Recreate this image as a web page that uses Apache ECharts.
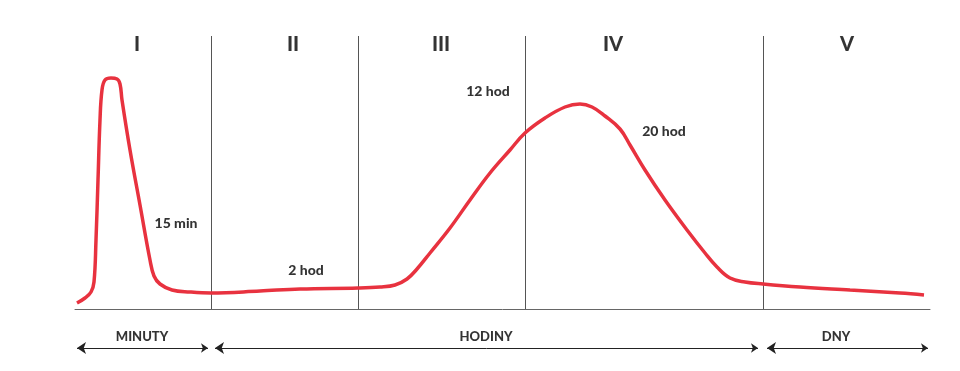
<!DOCTYPE html>
<html>
<head>
<meta charset="utf-8">
<script src="https://cdn.jsdelivr.net/npm/echarts@6/dist/echarts.min.js"></script>
<style>html,body{margin:0;padding:0;background:#fff}#c{width:960px;height:371px}</style>
</head>
<body>
<div id="c"></div>
<script>
// Curve (x = relative position, y = relative level)
const curveX = [2,10,16,19,21,23,25,27,30,36,42,45,47,55,65,75,79,85,97,115,136,185,225,283,305,320,332,342,355,375,395,415,435,450,470,490,505,517,530,545,555,570,590,612,630,642,655,670,688,725,775,825,849];
const curveY = [6,11,17,27,69,129,189,219,229,231,230,225,209,159,104,49,33,25,19,17,16,18,20,21,22,24,30,40,56,81,109,136,159,176,191,202,205,202,193,180,164,139,109,79,56,42,31,27,25,22,19,16,14];
// Phase dividers
const dividers = [136, 283, 450, 688];
const dividerTop = 273;
// Phase labels
const phaseLabels = ['I','II','III','IV','V'];
const phaseX = [62, 218, 366, 538, 772];
const phaseY = 264;
// Annotations
const noteLabels = ['15 min','2 hod','12 hod','20 hod'];
const noteX = [101, 231, 413, 589];
const noteY = [86, 39, 218, 178];
// Time-scale ranges
const rangeLabels = ['MINUTY','HODINY','DNY'];
const rangeStart = [2, 140, 692];
const rangeEnd = [133, 683, 853];
const rangeLabelX = [67, 411, 761];
const rangeArrowY = -39;
const rangeLabelY = -28;

const chart = echarts.init(document.getElementById('c'), null, {renderer:'canvas'});
const RED = '#e8323f';
const hidden = {color:'rgba(0,0,0,0)'};
const option = {
  animation: false,
  grid: {left: 75, right: 30, top: 36, bottom: 10},
  xAxis: {type:'value', min:0, max:855, show:true,
    axisLine:{show:true, onZero:true, lineStyle:{color:'#666', width:1}},
    axisTick:{show:false}, axisLabel:{show:false}, splitLine:{show:false}},
  yAxis: {type:'value', min:-52, max:273, show:false, splitLine:{show:false}},
  series: [
    {
      type:'line', data: curveX.map((x,i)=>[x,curveY[i]]),
      smooth:0.4, symbol:'none', lineStyle:{color:RED, width:3.5}, z:5,
      markLine:{silent:true, symbol:'none', label:{show:false},
        lineStyle:{color:'#555', width:1, type:'solid'},
        data: dividers.map(d=>[{coord:[d,0]},{coord:[d,dividerTop]}])}
    },
    {
      type:'scatter', symbolSize:1, itemStyle:hidden, silent:true,
      data: phaseX.map((x,i)=>({value:[x,phaseY], name:phaseLabels[i]})),
      label:{show:true, position:'inside', formatter:p=>p.name, color:'#000',
        fontFamily:'Lato', fontWeight:900, fontSize:20}
    },
    {
      type:'scatter', symbolSize:1, itemStyle:hidden, silent:true,
      data: noteX.map((x,i)=>({value:[x,noteY[i]], name:noteLabels[i]})),
      label:{show:true, position:'inside', formatter:p=>p.name, color:'#000',
        fontFamily:'Lato', fontWeight:900, fontSize:14}
    },
    {
      type:'scatter', symbolSize:1, itemStyle:hidden, silent:true,
      data: rangeLabelX.map((x,i)=>({value:[x,rangeLabelY], name:rangeLabels[i]})),
      label:{show:true, position:'inside', formatter:p=>p.name, color:'#000',
        fontFamily:'Lato', fontWeight:900, fontSize:13}
    },
    {
      type:'lines', coordinateSystem:'cartesian2d', silent:true,
      symbol:['arrow','arrow'], symbolSize:[9,7],
      lineStyle:{color:'#222', width:1, opacity:1},
      data: rangeStart.map((s,i)=>({coords:[[s,rangeArrowY],[rangeEnd[i],rangeArrowY]]}))
    }
  ]
};
chart.setOption(option);
</script>
</body>
</html>
